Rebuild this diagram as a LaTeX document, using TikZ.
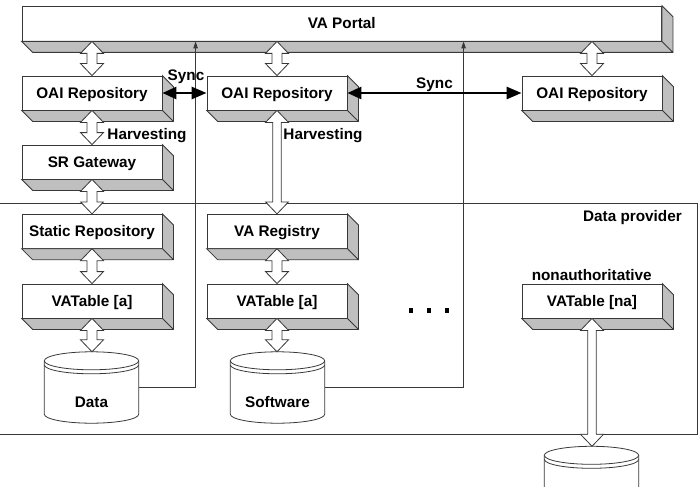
\documentclass[tikz,border=0pt]{standalone}
\usepackage{fontspec}
\setmainfont{Liberation Sans}
\usetikzlibrary{arrows.meta,calc}
\newcommand\lab{\fontsize{15.3}{18}\selectfont\bfseries}
\newcommand\boxfaces[1]{%
  \filldraw[shadeface] let \p1=(#1.south west), \p2=(#1.north east) in
    (\x1,\y1) -- (\x1+11pt,\y1-11pt) -- (\x2+11pt,\y1-11pt) -- (\x2+11pt,\y2-11pt) -- (\x2,\y2) -- (\x2,\y1) -- cycle
    (\x2,\y1) -- (\x2+11pt,\y1-11pt);}
\newcommand\blockarrow[3]{%
  \draw[blk] let \p1=(#1), \p2=(#2) in
   (\x1,\y1) -- (\x1+11.5pt,\y1-12pt) -- (\x1+#3,\y1-12pt) -- (\x1+#3,\y2+12pt) -- (\x1+11.5pt,\y2+12pt) -- (\x1,\y2)
   -- (\x1-11.5pt,\y2+12pt) -- (\x1-#3,\y2+12pt) -- (\x1-#3,\y1-12pt) -- (\x1-11.5pt,\y1-12pt) -- cycle;}
\newcommand\dbshape[1]{%
  \filldraw[cyl] let \p1=(#1.north west), \p2=(#1.south east), \n1={(\x2-\x1)/2} in
    (\x1,\y1-9pt) -- (\x1,\y2+9pt) arc[start angle=180,end angle=360,x radius=\n1,y radius=9pt]
    -- (\x2,\y1-9pt) arc[start angle=0,end angle=180,x radius=\n1,y radius=9pt] -- cycle;
  \draw[cyl] let \p1=(#1.north west), \p2=(#1.south east), \n1={(\x2-\x1)/2} in
    (\x1,\y1-9pt) arc[start angle=180,end angle=360,x radius=\n1,y radius=9pt]
    (\x1,\y1-13pt) arc[start angle=180,end angle=360,x radius=\n1,y radius=9pt];}
\begin{document}
\begin{tikzpicture}[x=1pt,y=-1pt,
  ln/.style={draw=black!78, line width=0.8pt},
  box/.style={ln, fill=white, minimum width=140pt, minimum height=34pt, inner sep=0pt, font=\lab, text height=11pt, text depth=0pt},
  shadeface/.style={ln, fill=black!25},
  blk/.style={ln, fill=white},
  cyl/.style={ln, fill=white},
  cylbox/.style={inner sep=0pt, minimum width=94pt, minimum height=71pt},
  txt/.style={font=\lab, inner sep=0pt, text height=11pt, text depth=0pt},
  sync/.style={line width=2.6pt, {Triangle[length=14pt,width=12pt]}-{Triangle[length=15pt,width=12pt]}},
  thinarr/.style={ln, -{Triangle[length=7pt,width=4.5pt]}},
  sq/.style={fill=black, minimum size=4.5pt, inner sep=0pt}
]
\useasboundingbox (0,0) rectangle (699,487);
% data provider frame
\node[ln, minimum width=705pt, minimum height=231pt, anchor=north west, inner sep=0pt] (dp) at (-8,202.5) {};
\node[txt, anchor=east] (dplbl) at (682,216) {Data provider};
% boxes
\node[box, minimum width=639.5pt, minimum height=35pt] (portal) at (341.75,23.5) {VA Portal};
\boxfaces{portal}
\node[box] (oai1) at (92,93) {OAI Repository};
\node[box] (oai2) at (277,93) {OAI Repository};
\node[box] (oai3) at (592,93) {OAI Repository};
\node[box] (srgw) at (92,162) {SR Gateway};
\node[box] (static) at (92,231.3) {Static Repository};
\node[box] (registry) at (277,231.3) {VA Registry};
\node[box] (vat1) at (92,301) {VATable [a]};
\node[box] (vat2) at (277,301) {VATable [a]};
\node[box] (vatna) at (592,301) {VATable [na]};
\foreach \b in {oai1,oai2,oai3,srgw,static,registry,vat1,vat2,vatna}{\boxfaces{\b}}
% cylinders
\node[cylbox] (data) at (91.5,387.5) {};
\dbshape{data}
\node[txt] (datalbl) at ($(data.center)+(0,14)$) {Data};
\node[cylbox] (soft) at (277.5,387.5) {};
\dbshape{soft}
\node[txt] (softlbl) at ($(soft.center)+(0,14)$) {Software};
\node[cylbox] (nadb) at (591.5,482) {};
\dbshape{nadb}
% block arrows
\blockarrow{oai1.north |- portal.south}{oai1.north}{5pt}
\blockarrow{oai2.north |- portal.south}{oai2.north}{5pt}
\blockarrow{oai3.north |- portal.south}{oai3.north}{5pt}
\blockarrow{oai1.south}{srgw.north}{5pt}
\blockarrow{srgw.south}{static.north}{5pt}
\blockarrow{static.south}{vat1.north}{5pt}
\blockarrow{vat1.south}{data.north}{5pt}
\blockarrow{oai2.south}{registry.north}{4.2pt}
\blockarrow{registry.south}{vat2.north}{5pt}
\blockarrow{vat2.south}{soft.north}{5pt}
\blockarrow{vatna.south}{nadb.north}{4.2pt}
% thin connectors
\draw[thinarr] (data.east) -| ($(portal.south west)+(174,0)$);
\draw[thinarr] (soft.east) -| ($(portal.south west)+(442,0)$);
% sync
\draw[sync] (oai1.east) -- (oai2.west);
\draw[sync] (oai2.east) -- (oai3.west);
% labels
\node[txt] (sync1) at (186,75) {Sync};
\node[txt] (sync2) at (434.5,83) {Sync};
\node[txt] (harv1) at (147,134) {Harvesting};
\node[txt] (harv2) at (323,134) {Harvesting};
\node[txt] (nonauth) at (591.7,275) {nonauthoritative};
% dots
\node[sq] (d1) at (411,310.5) {};
\node[sq] (d2) at (429,310.5) {};
\node[sq] (d3) at (447,310.5) {};
\end{tikzpicture}
\end{document}
